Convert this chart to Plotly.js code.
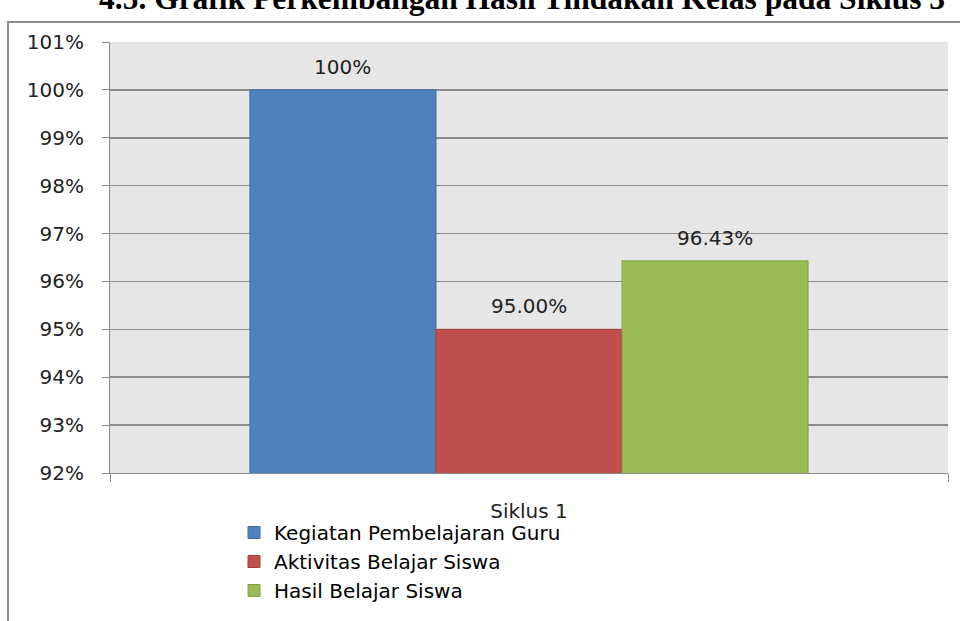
<!DOCTYPE html>
<html>
<head>
<meta charset="utf-8">
<script src="https://cdn.plot.ly/plotly-3.0.1.min.js"></script>
<style>html,body{margin:0;padding:0;background:#fff;}#chart{width:960px;height:621px;}</style>
</head>
<body>
<div id="chart"></div>
<script>
const categories = ["Siklus 1"];
const seriesNames = ["Kegiatan Pembelajaran Guru", "Aktivitas Belajar Siswa", "Hasil Belajar Siswa"];
const guruValues = [1.00];
const aktivitasValues = [0.95];
const hasilValues = [0.9643];
const labelDecimals = [0, 2, 2];
const colors = ["#4F81BD", "#C0504D", "#9BBB59"];
const edgeColors = ["#3F6C9F", "#A3403D", "#81A044"];
const titleText = "4.5. Grafik Perkembangan Hasil Tindakan Kelas pada Siklus 3";

const seriesValues = [guruValues, aktivitasValues, hasilValues];
const font = "DejaVu Sans, sans-serif";
const bargap = 0.334;

const traces = seriesValues.map((vals, i) => ({
  type: "bar",
  name: seriesNames[i],
  x: categories,
  y: vals,
  marker: {color: colors[i], line: {color: edgeColors[i], width: 1}},
  hoverinfo: "name+y"
}));

const L = 110, R = 948, T = 42, B = 473;
const W = R - L, H = B - T;
const px2x = p => (p - L) / W;
const px2y = p => (B - p) / H;

const barW = (1 - bargap) / seriesValues.length;
const labelAnns = [];
seriesValues.forEach((vals, i) => {
  vals.forEach((v, j) => {
    labelAnns.push({
      xref: "x", yref: "y",
      x: j + (i - (seriesValues.length - 1) / 2) * barW,
      y: v,
      text: (v * 100).toFixed(labelDecimals[i]) + "%",
      showarrow: false, yanchor: "bottom", yshift: 9,
      font: {family: font, size: 20, color: "#222"}
    });
  });
});

const layout = {
  width: 960, height: 621,
  margin: {l: L, r: 960 - R, t: T, b: 621 - B, autoexpand: false},
  paper_bgcolor: "#ffffff",
  plot_bgcolor: "#E6E6E6",
  barmode: "group",
  bargap: bargap,
  bargroupgap: 0,
  showlegend: true,
  legend: {
    x: px2x(234), y: px2y(513), xanchor: "left", yanchor: "top",
    orientation: "v",
    font: {family: font, size: 20, color: "#000"},
    tracegroupgap: 0,
    itemwidth: 30,
    bgcolor: "rgba(0,0,0,0)"
  },
  xaxis: {
    type: "category",
    automargin: false,
    showline: true, linecolor: "#8C8C8C", linewidth: 1,
    ticks: "outside", tickson: "boundaries", ticklen: 8, tickcolor: "#8C8C8C",
    ticklabelstandoff: 20,
    tickfont: {family: font, size: 20, color: "#222"},
    showgrid: false
  },
  yaxis: {
    range: [0.92, 1.01],
    automargin: false,
    dtick: 0.01, tick0: 0.92,
    tickformat: ".0%",
    showline: true, linecolor: "#8C8C8C", linewidth: 1,
    ticks: "outside", ticklen: 7, tickcolor: "#8C8C8C",
    ticklabelstandoff: 14,
    gridcolor: "#8C8C8C", gridwidth: 1.5,
    tickfont: {family: font, size: 20, color: "#222"},
    zeroline: false
  },
  shapes: [
    {type: "rect", xref: "paper", yref: "paper",
     x0: px2x(8), x1: px2x(1000), y0: px2y(700), y1: px2y(22),
     line: {color: "#8C8C8C", width: 2}, fillcolor: "rgba(0,0,0,0)", layer: "below"}
  ],
  annotations: labelAnns.concat([
    {text: "<b>" + titleText + "</b>", xref: "paper", yref: "paper",
     x: px2x(522), y: px2y(18), xanchor: "center", yanchor: "bottom",
     showarrow: false, font: {family: "Liberation Serif, Times New Roman, serif", size: 31.5, color: "#000"}}
  ])
};

Plotly.newPlot("chart", traces, layout, {displayModeBar: false, staticPlot: true});
</script>
</body>
</html>
